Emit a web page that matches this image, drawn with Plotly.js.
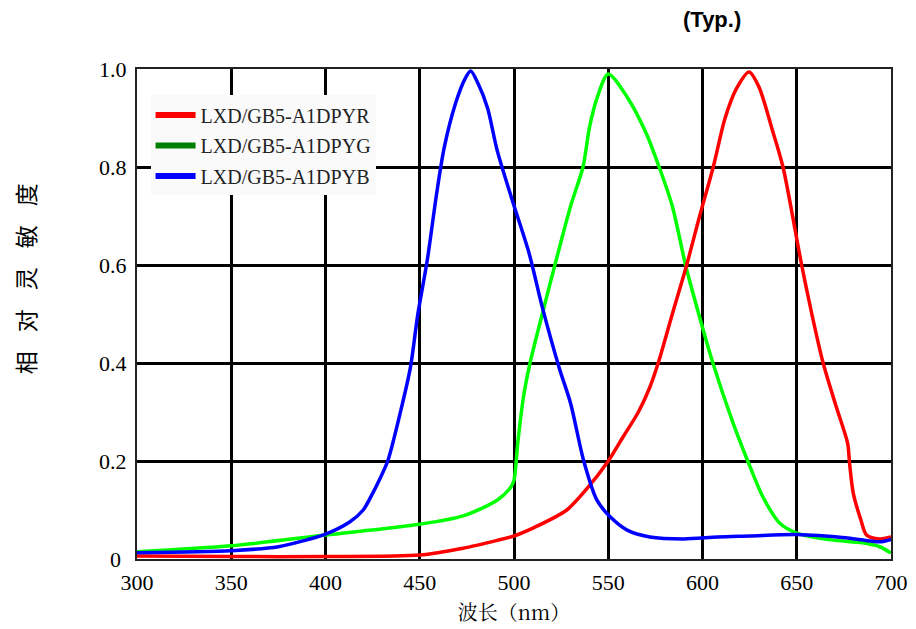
<!DOCTYPE html>
<html>
<head>
<meta charset="utf-8">
<script src="https://cdn.plot.ly/plotly-3.0.1.min.js"></script>
<style>html,body{margin:0;padding:0;background:#fff;}#chart{width:916px;height:629px;}</style>
</head>
<body>
<div id="chart"></div>
<script>
// Series names
const seriesNames = ["LXD/GB5-A1DPYR", "LXD/GB5-A1DPYG", "LXD/GB5-A1DPYB"];

// Red series (wavelength nm, relative sensitivity)
const redNm  = [300, 350, 400, 450, 473, 491, 500, 510, 528, 539, 550, 558, 566, 572, 576.5, 584, 591.6, 598.5, 605.7, 612, 618, 624.7, 630, 637, 642.7, 652.6, 658, 664, 671, 677, 678, 680, 684, 687, 694, 700];
const redVal = [0.006, 0.005, 0.005, 0.008, 0.022, 0.038, 0.047, 0.063, 0.1, 0.145, 0.2, 0.25, 0.3, 0.35, 0.4, 0.5, 0.6, 0.7, 0.8, 0.9, 0.96, 0.994, 0.963, 0.876, 0.8, 0.6, 0.5, 0.4, 0.31, 0.236, 0.196, 0.134, 0.08, 0.049, 0.041, 0.045];

// Green series
const greenNm  = [300, 350, 400, 450, 473, 491, 498, 500, 502, 505, 508.5, 515, 521.7, 530, 536.6, 540, 544, 550, 560, 570, 577, 584, 591, 598, 605.5, 616, 624, 632, 641, 650, 668, 685, 694, 700];
const greenVal = [0.015, 0.027, 0.049, 0.071, 0.088, 0.12, 0.145, 0.161, 0.237, 0.33, 0.4, 0.5, 0.6, 0.72, 0.8, 0.88, 0.94, 0.99, 0.943, 0.87, 0.8, 0.72, 0.6, 0.5, 0.4, 0.28, 0.2, 0.127, 0.073, 0.053, 0.039, 0.033, 0.025, 0.012];

// Blue series
const blueNm  = [300, 350, 375, 390, 399, 413, 420, 425, 429, 433, 440, 445, 449, 454, 459, 463, 469, 474, 477, 481, 486, 491, 499, 508, 515, 524, 530, 537, 544, 551, 560, 572, 590, 608, 625, 650, 677, 694, 700];
const blueVal = [0.013, 0.017, 0.025, 0.039, 0.049, 0.076, 0.1, 0.134, 0.165, 0.2, 0.304, 0.39, 0.5, 0.61, 0.747, 0.84, 0.93, 0.98, 0.996, 0.97, 0.92, 0.835, 0.733, 0.624, 0.514, 0.39, 0.318, 0.2, 0.12, 0.086, 0.059, 0.045, 0.041, 0.045, 0.047, 0.05, 0.043, 0.035, 0.04];

// Axis ticks
const xTicks = [300, 350, 400, 450, 500, 550, 600, 650, 700];
const yTicks = [0, 0.2, 0.4, 0.6, 0.8, 1.0];
const yTickText = ["0\u00a0", "0.2", "0.4", "0.6", "0.8", "1.0"];

const curveColors = ["#ff0000", "#00ff00", "#0000ff"];
const legendColors = ["#ff0000", "#008000", "#0000ff"];

const yTitleChars = ["相", "对", "灵", "敏", "度"];
const xTitle = "波长（nm）";
const noteText = "(Typ.)";

const curves = [
  {x: greenNm, y: greenVal, c: curveColors[1]},
  {x: redNm, y: redVal, c: curveColors[0]},
  {x: blueNm, y: blueVal, c: curveColors[2]}
];

const traces = curves.map(s => ({
  x: s.x, y: s.y, type: "scatter", mode: "lines",
  line: {color: s.c, width: 3.5, shape: "spline", smoothing: 0.8},
  showlegend: false, hoverinfo: "skip"
}));

seriesNames.forEach((n, i) => {
  traces.push({
    x: [null], y: [null], type: "scatter", mode: "lines", name: n,
    legendgroup: "g" + i,
    line: {color: legendColors[i], width: 6}
  });
});

const yTitle = yTitleChars.join("<span style='font-size:19px'>\u3000</span>");

const annotations = [{
  text: "<b>" + noteText + "</b>", xref: "paper", yref: "paper",
  x: 0.762, y: 1.1, xanchor: "center", yanchor: "middle", showarrow: false,
  font: {family: "Liberation Sans, Arial, sans-serif", size: 22, color: "#000"}
}, {
  text: yTitle, xref: "paper", yref: "paper", textangle: -90,
  x: -0.1485, y: 0.571, xanchor: "center", yanchor: "middle", showarrow: false,
  font: {family: "Noto Sans CJK SC, sans-serif", size: 23, color: "#000"}
}];

const layout = {
  width: 916, height: 629,
  margin: {l: 137, r: 25, t: 69, b: 70},
  paper_bgcolor: "#fff", plot_bgcolor: "#fff",
  showlegend: true,
  legend: {
    x: 0.018, y: 0.946, xanchor: "left", yanchor: "top",
    bgcolor: "#fafafa", borderwidth: 0,
    font: {family: "Liberation Serif, Times New Roman, serif", size: 20, color: "#222"},
    traceorder: "grouped", tracegroupgap: 1.5, itemwidth: 40
  },
  xaxis: {
    range: [300, 700], tickvals: xTicks, ticktext: xTicks.map(String),
    showgrid: true, gridcolor: "#000", gridwidth: 3,
    zeroline: false, showline: true, mirror: true, linecolor: "#222", linewidth: 2,
    ticks: "", fixedrange: true, ticklabelstandoff: 3,
    tickfont: {family: "Liberation Serif, Times New Roman, serif", size: 22, color: "#000"},
    title: {text: xTitle, standoff: 12,
      font: {family: "Noto Serif CJK SC, Noto Sans CJK SC, serif", size: 20, color: "#000"}}
  },
  yaxis: {
    range: [0, 1.0], tickvals: yTicks, ticktext: yTickText,
    showgrid: true, gridcolor: "#000", gridwidth: 3,
    zeroline: false, showline: true, mirror: true, linecolor: "#222", linewidth: 2,
    ticks: "", fixedrange: true, ticklabelstandoff: 4,
    tickfont: {family: "Liberation Serif, Times New Roman, serif", size: 22, color: "#000"}
  },
  annotations: annotations
};

Plotly.newPlot("chart", traces, layout, {displayModeBar: false, staticPlot: true});
</script>
</body>
</html>
